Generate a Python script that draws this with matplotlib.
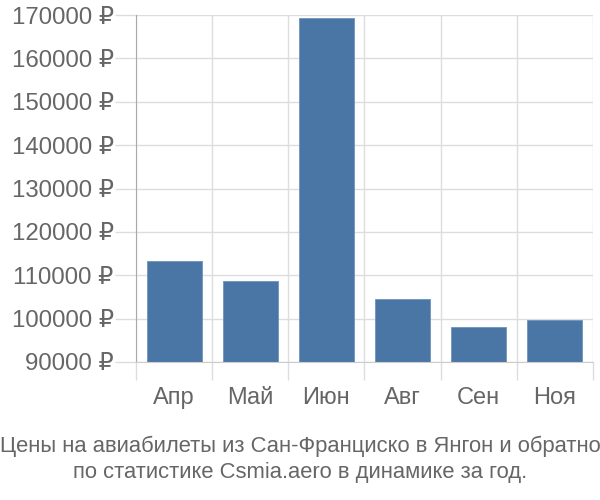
import matplotlib
matplotlib.use("Agg")
import matplotlib.pyplot as plt
import numpy as np

plt.rcParams['font.family'] = ['Liberation Sans', 'DejaVu Sans']

months = ['Апр', 'Май', 'Июн', 'Авг', 'Сен', 'Ноя']
prices = [113300, 108700, 169300, 104500, 98100, 99700]
y_ticks = list(range(90000, 170001, 10000))
caption = ('Цены на авиабилеты из Сан-Франциско в Янгон и обратно\n'
           'по статистике Csmia.aero в динамике за год.')

fig = plt.figure(figsize=(6, 5), dpi=100)
ax = fig.add_axes([136 / 600, 1 - 362 / 500, (593 - 136) / 600, (362 - 15) / 500])

x = np.arange(len(months))
ax.bar(x, prices, width=0.72, bottom=0, color='#4a76a6', edgecolor='#6d93bd',
       linewidth=0.6, zorder=3)

ax.set_xlim(-0.5, len(months) - 0.5)
ax.set_ylim(y_ticks[0], y_ticks[-1])

ax.set_yticks(y_ticks)
ax.set_yticklabels([f'{v} ₽' for v in y_ticks])
ax.set_xticks(x)
ax.set_xticklabels(months)
ax.set_xticks(np.arange(-0.5, len(months)), minor=True)

# tick lengths in points (px * 0.72)
ax.grid(axis='y', color='#dddddd', linewidth=1, zorder=0)
ax.grid(axis='x', which='minor', color='#dddddd', linewidth=1, zorder=0)
ax.tick_params(axis='y', length=15, color='#dddddd', width=1, labelsize=17.3,
               labelcolor='#666666', pad=1)
ax.tick_params(axis='x', which='major', length=0, labelsize=17,
               labelcolor='#666666', pad=18)
ax.tick_params(axis='x', which='minor', length=13, color='#dddddd', width=1)

for side in ['top', 'right']:
    ax.spines[side].set_visible(False)
ax.spines['left'].set_color('#aaaaaa')
ax.spines['bottom'].set_color('#cccccc')
ax.spines['bottom'].set_zorder(4)

fig.text(0.5, 1 - 459.5 / 500, caption, ha='center', va='center', fontsize=15.8,
         color='#666666', linespacing=1.3)

fig.savefig('out.png', dpi=100)
